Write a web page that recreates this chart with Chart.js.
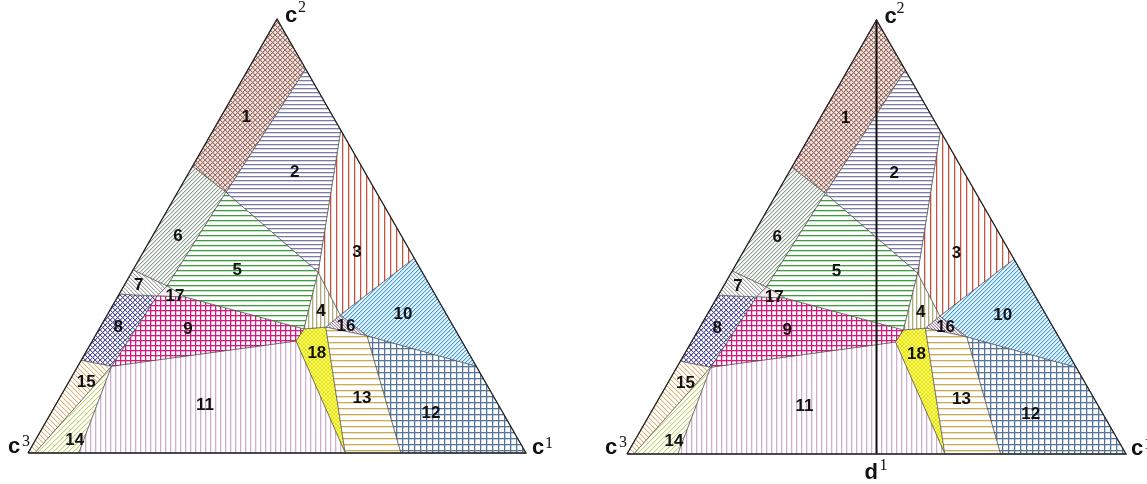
<!DOCTYPE html>
<html>
<head>
<meta charset="utf-8">
<script src="https://cdn.jsdelivr.net/npm/chart.js@4.4.0/dist/chart.umd.min.js"></script>
<style>
    body { margin: 0; background: #fff; }
    .grap-container { position: absolute; top: 0; height: 484px; }
    #left { left: 0; width: 576px; }
    #right { left: 576px; width: 571px; }
</style>
</head>
<body>
<div class="grap-container" id="left"><canvas id="chart-left"></canvas></div>
<div class="grap-container" id="right"><canvas id="chart-right"></canvas></div>
<script>
// region corners as ternary shares [c1, c2] (c3 = 1 - c1 - c2)
var region1 = [[0, 1], [0.115, 0.885], [0.097, 0.601], [0, 0.661]];
var region2 = [[0.115, 0.885], [0.256, 0.744], [0.374, 0.417], [0.097, 0.601]];
var region3 = [[0.256, 0.744], [0.551, 0.449], [0.468, 0.318], [0.374, 0.417]];
var region4 = [[0.374, 0.417], [0.468, 0.318], [0.453, 0.290], [0.411, 0.286]];
var region5 = [[0.097, 0.601], [0.374, 0.417], [0.411, 0.286], [0.138, 0.359], [0.087, 0.385]];
var region6 = [[0, 0.661], [0.097, 0.601], [0.087, 0.385], [0, 0.422]];
var region7 = [[0, 0.422], [0.087, 0.385], [0.078, 0.362], [0, 0.366]];
var region8 = [[0, 0.366], [0.078, 0.362], [0.068, 0.200], [0, 0.214]];
var region9 = [[0.078, 0.362], [0.138, 0.359], [0.411, 0.286], [0.409, 0.258], [0.068, 0.200]];
var region10 = [[0.468, 0.318], [0.551, 0.449], [0.800, 0.200], [0.546, 0.270]];
var region11 = [[0.068, 0.200], [0.409, 0.258], [0.637, 0], [0.102, 0]];
var region12 = [[0.546, 0.270], [0.800, 0.200], [1, 0], [0.749, 0]];
var region13 = [[0.453, 0.290], [0.546, 0.270], [0.749, 0], [0.637, 0]];
var region14 = [[0.068, 0.200], [0.102, 0], [0.014, 0]];
var region15 = [[0, 0.214], [0.068, 0.200], [0.014, 0], [0, 0]];
var region16 = [[0.468, 0.318], [0.546, 0.270], [0.453, 0.290]];
var region17 = [[0.087, 0.385], [0.138, 0.359], [0.078, 0.362]];
var region18 = [[0.409, 0.258], [0.411, 0.286], [0.453, 0.290], [0.637, 0]];

var regions = [region1, region2, region3, region4, region5, region6, region7, region8, region9,
    region10, region11, region12, region13, region14, region15, region16, region17, region18];
var regionNames = ['1', '2', '3', '4', '5', '6', '7', '8', '9', '10', '11', '12', '13', '14', '15', '16', '17', '18'];
var labelPoints = [[0.051, 0.774], [0.212, 0.647], [0.429, 0.463], [0.425, 0.327], [0.209, 0.422], [0.051, 0.500],
    [0.029, 0.387], [0.036, 0.290], [0.178, 0.286], [0.593, 0.320], [0.300, 0.111], [0.763, 0.092],
    [0.607, 0.127], [0.079, 0.030], [0.035, 0.164], [0.492, 0.293], [0.114, 0.362], [0.465, 0.230]];

var outline = [[0, 0], [1, 0], [0, 1], [0, 0]];
var divider = [[0, 1], [0.5, 0]];
var cornerPoints = [[1, 0], [0, 1], [0, 0]];
var cornerNames = ['c', 'c', 'c'];
var cornerSups = ['1', '2', '3'];

// hatch look for each region (kind, line colour, gap, background)
var hatchStyles = [
    ['lattice', '#9c6c62', 5, '#f1e5e2'],
    ['h', '#7c7ca6', 4, '#ffffff'],
    ['v', '#c4553f', 6, '#ffffff'],
    ['v', '#acac7c', 4, '#ffffff'],
    ['h', '#3f9c3f', 5, '#ffffff'],
    ['up', '#8e9e8e', 4, '#f8faf8'],
    ['down', '#a4a4a4', 4, '#ffffff'],
    ['lattice', '#50509a', 5, '#ffffff'],
    ['grid', '#d21a7e', 5, '#ffffff'],
    ['up', '#3d9de0', 4, '#e8f4fc'],
    ['v', '#cdb0cd', 5, '#ffffff'],
    ['grid', '#557599', 6, '#ffffff'],
    ['h', '#c9aa55', 6, '#ffffff'],
    ['up', '#c2d46c', 5, '#ffffff'],
    ['down', '#e4b274', 5, '#ffffff'],
    ['down', '#a484aa', 3, '#ffffff'],
    ['none', '#ffffff', 4, '#f8ecef'],
    ['lattice', '#e6e600', 4, '#ffff96']
];

function makeHatch(kind, color, gap, bg) {
    var cv = document.createElement('canvas');
    cv.width = gap;
    cv.height = gap;
    var g = cv.getContext('2d');
    g.fillStyle = bg;
    g.fillRect(0, 0, gap, gap);
    g.fillStyle = color;
    // soft neighbour pixel first, then the line itself
    [0.3, 1].forEach(function (alpha, pass) {
        g.globalAlpha = alpha;
        var s = pass === 0 ? 1 : 0;
        for (var i = 0; i < gap; i++) {
            if (kind === 'h' || kind === 'grid') g.fillRect(i, s, 1, 1);
            if (kind === 'v' || kind === 'grid') g.fillRect(s, i, 1, 1);
            if (kind === 'up' || kind === 'lattice') g.fillRect((i + s) % gap, gap - 1 - i, 1, 1);
            if (kind === 'down' || kind === 'lattice') g.fillRect((i + s) % gap, i, 1, 1);
        }
    });
    g.globalAlpha = 1;
    return g.createPattern(cv, 'repeat');
}

function toXY(points) {
    return points.map(function (p) {
        return { x: p[0] + p[1] / 2, y: p[1] };
    });
}

function closed(points) {
    return points.concat([points[0]]);
}

var labelPlugin = {
    id: 'regionLabels',
    afterDatasetsDraw: function (chart) {
        var ctx = chart.ctx;
        var xs = chart.scales.x;
        var ys = chart.scales.y;
        var opts = chart.options.plugins.regionLabels;
        var px = function (p) {
            return [xs.getPixelForValue(p[0] + p[1] / 2), ys.getPixelForValue(p[1])];
        };
        ctx.save();
        ctx.fillStyle = '#111';
        ctx.font = 'bold 17px "Liberation Sans", Arial, sans-serif';
        ctx.textAlign = 'center';
        ctx.textBaseline = 'middle';
        regionNames.forEach(function (name, i) {
            var q = px(labelPoints[i]);
            ctx.fillText(name, q[0], q[1]);
        });

        // corner names c1 (right), c2 (top), c3 (left)
        ctx.textAlign = 'left';
        ctx.textBaseline = 'alphabetic';
        cornerPoints.forEach(function (p, i) {
            var c = px(p);
            var o = opts.corner[i];
            ctx.font = 'bold 22px "Liberation Sans", Arial, sans-serif';
            ctx.fillText(cornerNames[i], c[0] + o[0], c[1] + o[1]);
            ctx.font = '16px "Liberation Serif", "Times New Roman", serif';
            ctx.fillText(cornerSups[i], c[0] + o[2], c[1] + o[3]);
        });

        if (opts.divider) {
            var d = px(divider[1]);
            ctx.font = 'bold 22px "Liberation Sans", Arial, sans-serif';
            ctx.fillText('d', d[0] - 12, d[1] + 25);
            ctx.font = '16px "Liberation Serif", "Times New Roman", serif';
            ctx.fillText('1', d[0] + 3, d[1] + 16);
        }
        ctx.restore();
    }
};

function makeChart(id, xMin, xMax, yMin, yMax, withDivider, corner) {
    var datasets = [];
    datasets.push({
        data: toXY(outline), borderColor: '#222', borderWidth: 1.3, fill: false, order: 0
    });
    if (withDivider) {
        datasets.push({
            data: toXY(divider), borderColor: '#111', borderWidth: 2, fill: false, order: 0
        });
    }
    regions.forEach(function (r, i) {
        var s = hatchStyles[i];
        datasets.push({
            data: toXY(closed(r)),
            borderColor: 'rgba(70,70,70,0.75)',
            borderWidth: 0.8,
            fill: 'shape',
            backgroundColor: makeHatch(s[0], s[1], s[2], s[3]),
            order: 1
        });
    });

    return new Chart(document.getElementById(id), {
        type: 'line',
        data: { datasets: datasets },
        options: {
            responsive: true,
            maintainAspectRatio: false,
            animation: false,
            layout: { padding: 0 },
            elements: { point: { radius: 0 }, line: { tension: 0 } },
            plugins: {
                legend: { display: false },
                tooltip: { enabled: false },
                regionLabels: { divider: withDivider, corner: corner }
            },
            scales: {
                x: { type: 'linear', min: xMin, max: xMax, display: false },
                y: { type: 'linear', min: yMin, max: yMax, display: false }
            }
        },
        plugins: [labelPlugin]
    });
}

makeChart('chart-left', -28 / 498, 548 / 498, -31 / 434, 453 / 434, false,
    [[6, 1, 19, -5], [8, 3, 21, -7], [-20, 0, -6, -7]]);
makeChart('chart-right', -51 / 499, 520 / 499, -30 / 434, 454 / 434, true,
    [[5, 1, 18, -5], [8, 3, 20, -7], [-22, 0, -8, -7]]);
</script>
</body>
</html>
